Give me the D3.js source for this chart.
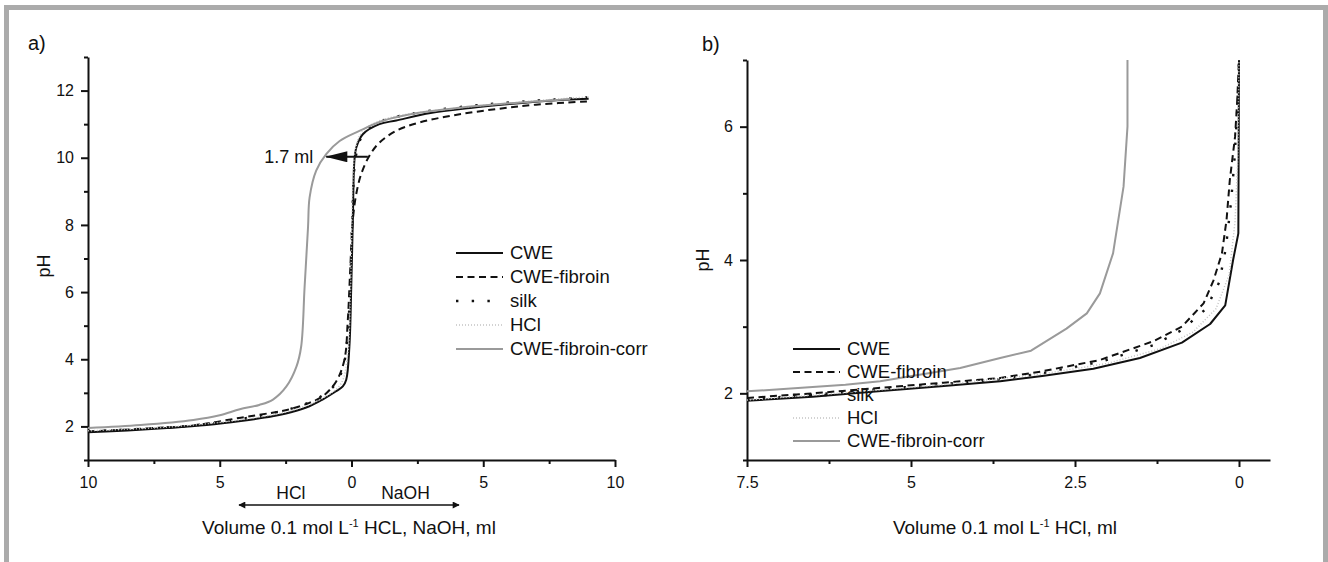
<!DOCTYPE html>
<html>
<head>
<meta charset="utf-8">
<script src="https://cdn.jsdelivr.net/npm/d3@7"></script>
<style>
  body { margin: 0; background: #fff; }
  svg { display: block; font-family: "Liberation Sans", Arial, sans-serif; }
  .axis path, .axis line { stroke: #111; }
  .axis text { fill: #111; font-size: 16px; font-family: "Liberation Sans", Arial, sans-serif; }
</style>
</head>
<body>
<div id="chart-area"></div>
<script>
// ---- data, panel a (volume: negative = HCl, positive = NaOH) ----
const seriesNames = ["CWE", "CWE-fibroin", "silk", "HCl", "CWE-fibroin-corr"];

const cweA_vol = [-10, -8.5, -7, -5.5, -4.2, -3, -2.3, -1.6, -1.1, -0.6, -0.33, -0.2, -0.08, -0.01, 0.05, 0.11, 0.18, 0.43, 1.06, 1.7, 3, 4.5, 6, 7.5, 9];
const cweA_pH  = [1.83, 1.88, 1.95, 2.04, 2.16, 2.3, 2.42, 2.6, 2.8, 3.04, 3.19, 3.39, 4.38, 6.14, 8.14, 9.91, 10.3, 10.7, 11.0, 11.11, 11.33, 11.48, 11.6, 11.7, 11.76];

const fibA_vol = [-10, -8, -6, -4.2, -3, -2.35, -1.6, -1.09, -0.58, -0.27, -0.14, -0.05, 0.05, 0.18, 0.37, 0.68, 1.06, 1.69, 2.58, 4, 5.5, 7, 9];
const fibA_pH  = [1.85, 1.93, 2.03, 2.26, 2.41, 2.51, 2.7, 2.9, 3.34, 3.98, 5.17, 6.64, 8.14, 8.92, 9.52, 10.06, 10.45, 10.8, 11.05, 11.28, 11.45, 11.58, 11.68];

const silkA_vol = [-10, -8, -6, -4.2, -3, -2, -1.2, -0.6, -0.3, -0.15, -0.06, 0, 0.06, 0.15, 0.35, 0.8, 1.5, 3, 5, 7, 9];
const silkA_pH  = [1.85, 1.93, 2.03, 2.22, 2.39, 2.6, 2.87, 3.27, 3.82, 4.73, 5.94, 7.45, 8.96, 9.97, 10.57, 10.98, 11.18, 11.4, 11.58, 11.7, 11.8];

const hclA_vol = [-10, -7, -4.2, -2.3, -1.1, -0.4, -0.15, -0.05, 0, 0.06, 0.15, 0.4, 1, 2, 4, 6, 8, 9];
const hclA_pH  = [1.87, 1.98, 2.2, 2.47, 2.84, 3.27, 4.13, 5.74, 7.45, 9.46, 10.27, 10.77, 11.08, 11.28, 11.48, 11.63, 11.76, 11.81];

const corrA_vol = [-10, -8, -6, -5, -4.24, -3.5, -2.98, -2.47, -2.09, -1.91, -1.78, -1.65, -1.59, -1.34, -0.96, -0.45, 0.3, 1.19, 2.5, 4, 6, 8.3];
const corrA_pH  = [1.95, 2.04, 2.19, 2.33, 2.51, 2.64, 2.8, 3.19, 3.78, 4.38, 6.15, 7.93, 8.82, 9.62, 10.11, 10.5, 10.8, 11.1, 11.33, 11.48, 11.62, 11.74];

// ---- data, panel b (volume of HCl) ----
const cweB_vol = [7.5, 6.5, 5.5, 4.5, 3.64, 3.0, 2.22, 1.51, 0.87, 0.44, 0.21, 0.09, 0.01, 0];
const cweB_pH  = [1.89, 1.95, 2.03, 2.11, 2.18, 2.26, 2.37, 2.53, 2.76, 3.04, 3.32, 4.0, 4.4, 7.0];

const fibB_vol = [7.5, 6.5, 5.5, 4.5, 3.64, 3.0, 2.12, 1.31, 0.87, 0.54, 0.39, 0.26, 0.19, 0.14, 0.06, 0.03, 0];
const fibB_pH  = [1.93, 2.0, 2.08, 2.16, 2.23, 2.33, 2.5, 2.78, 3.0, 3.35, 3.69, 4.1, 4.6, 5.2, 5.85, 6.34, 7.0];

const silkB_vol = [7.5, 6.5, 5.5, 4.5, 3.64, 3.0, 2.12, 1.31, 0.87, 0.5, 0.3, 0.2, 0.12, 0.07, 0.03, 0];
const silkB_pH  = [1.91, 1.98, 2.06, 2.14, 2.21, 2.3, 2.47, 2.72, 2.95, 3.27, 3.67, 4.18, 4.88, 5.49, 6.19, 7.0];

const hclB_vol = [7.5, 6, 4.5, 3, 2, 1.2, 0.7, 0.35, 0.15, 0.06, 0.02, 0];
const hclB_pH  = [1.9, 2.01, 2.13, 2.29, 2.45, 2.67, 2.92, 3.27, 3.78, 4.58, 5.49, 7.0];

const corrB_vol = [7.5, 7.0, 6.0, 5.47, 4.25, 3.64, 3.17, 2.63, 2.32, 2.12, 1.92, 1.76, 1.70, 1.70];
const corrB_pH  = [2.03, 2.06, 2.13, 2.18, 2.38, 2.53, 2.64, 2.97, 3.2, 3.5, 4.1, 5.1, 6.0, 7.0];

// ticks
const xTicksA = [-10, -5, 0, 5, 10], xMinorA = [-7.5, -2.5, 2.5, 7.5];
const yTicksA = [2, 4, 6, 8, 10, 12], yMinorA = [1, 3, 5, 7, 9, 11, 13];
const xTicksB = [7.5, 5, 2.5, 0], xMinorB = [6.25, 3.75, 1.25];
const yTicksB = [2, 4, 6], yMinorB = [1, 3, 5, 7];

const W = 1328, H = 562;

const styles = [
  {stroke: "#111", width: 2, dash: null},
  {stroke: "#111", width: 2, dash: "7,4.5"},
  {stroke: "#111", width: 2.4, dash: "2.4,13.3"},
  {stroke: "#c4c4c4", width: 1.5, dash: "1,2"},
  {stroke: "#9a9a9a", width: 2, dash: null}
];

const svg = d3.select("#chart-area").append("svg")
  .attr("width", W)
  .attr("height", H);

// outer frame
svg.append("rect")
  .attr("x", 6.5).attr("y", 7.5)
  .attr("width", 1319).attr("height", 640)
  .attr("fill", "#fff")
  .attr("stroke", "#ababab")
  .attr("stroke-width", 5);

const zip = (xs, ys) => xs.map((v, i) => ({v: v, pH: ys[i]}));

function panel(opt) {
  const x = d3.scaleLinear().domain(opt.xDomain).range(opt.xRange);
  const y = d3.scaleLinear().domain(opt.yDomain).range(opt.yRange);
  const g = svg.append("g");

  // axes
  g.append("g").attr("class", "axis")
    .attr("transform", "translate(0," + opt.yRange[0] + ")")
    .call(d3.axisBottom(x).tickValues(opt.xTicks).tickFormat(d => Math.abs(d))
      .tickSize(7).tickSizeOuter(0).tickPadding(10));
  g.append("g").attr("class", "axis")
    .attr("transform", "translate(0," + opt.yRange[0] + ")")
    .call(d3.axisBottom(x).tickValues(opt.xMinor).tickFormat("").tickSize(4).tickSizeOuter(0))
    .select(".domain").remove();
  g.append("g").attr("class", "axis")
    .attr("transform", "translate(" + opt.xRange[0] + ",0)")
    .call(d3.axisLeft(y).tickValues(opt.yTicks).tickFormat(d3.format("d"))
      .tickSize(7).tickSizeOuter(0).tickPadding(7));
  g.append("g").attr("class", "axis")
    .attr("transform", "translate(" + opt.xRange[0] + ",0)")
    .call(d3.axisLeft(y).tickValues(opt.yMinor).tickFormat("").tickSize(4).tickSizeOuter(0))
    .select(".domain").remove();
  g.selectAll(".axis .domain").attr("stroke-width", 2);
  g.selectAll(".axis line").attr("stroke-width", 2);

  // curves
  const line = d3.line()
    .x(d => x(d.v))
    .y(d => y(d.pH))
    .curve(opt.curve);

  opt.series.forEach((s, i) => {
    g.append("path")
      .attr("d", line(s))
      .attr("fill", "none")
      .attr("stroke", styles[i].stroke)
      .attr("stroke-width", styles[i].width)
      .attr("stroke-dasharray", styles[i].dash)
      .attr("stroke-linejoin", "round");
  });

  // legend
  const leg = g.append("g")
    .attr("transform", "translate(" + opt.legend[0] + "," + opt.legend[1] + ")");
  seriesNames.forEach((name, i) => {
    const row = leg.append("g").attr("transform", "translate(0," + i * opt.legendStep + ")");
    row.append("line")
      .attr("x1", 0).attr("x2", 47)
      .attr("stroke", styles[i].stroke)
      .attr("stroke-width", styles[i].width)
      .attr("stroke-dasharray", styles[i].dash);
    row.append("text")
      .attr("x", 54).attr("dy", "0.35em")
      .attr("font-size", 18.5).attr("fill", "#111")
      .text(name);
  });

  // panel letter
  g.append("text")
    .attr("x", opt.letter[0]).attr("y", opt.letter[1])
    .attr("font-size", 20).attr("fill", "#111")
    .text(opt.letterText);

  // y title
  g.append("text")
    .attr("transform", "translate(" + opt.yTitle[0] + "," + opt.yTitle[1] + ") rotate(-90)")
    .attr("text-anchor", "middle")
    .attr("font-size", 18).attr("fill", "#111")
    .text("pH");

  // x title with superscript
  const t = g.append("text")
    .attr("x", opt.xTitle[0]).attr("y", opt.xTitle[1])
    .attr("text-anchor", "middle")
    .attr("font-size", 19).attr("fill", "#111");
  t.append("tspan").text("Volume 0.1 mol L");
  t.append("tspan").attr("dy", -7).attr("font-size", 11).text("-1");
  t.append("tspan").attr("dy", 7).text(" " + opt.xTitleTail);

  return {x: x, y: y, g: g};
}

const pa = panel({
  xDomain: [-10, 10], xRange: [88, 615],
  yDomain: [1, 13], yRange: [460, 57],
  xTicks: xTicksA, xMinor: xMinorA, yTicks: yTicksA, yMinor: yMinorA,
  curve: d3.curveCatmullRom.alpha(0.5),
  series: [zip(cweA_vol, cweA_pH), zip(fibA_vol, fibA_pH), zip(silkA_vol, silkA_pH),
           zip(hclA_vol, hclA_pH), zip(corrA_vol, corrA_pH)],
  legend: [456, 253], legendStep: 24,
  letter: [28, 50], letterText: "a)",
  yTitle: [50, 266],
  xTitle: [349, 534], xTitleTail: "HCL, NaOH, ml"
});

const pb = panel({
  xDomain: [7.5, -0.4726], xRange: [747, 1270],
  yDomain: [1, 7], yRange: [460, 60],
  xTicks: xTicksB, xMinor: xMinorB, yTicks: yTicksB, yMinor: yMinorB,
  curve: d3.curveLinear,
  series: [zip(cweB_vol, cweB_pH), zip(fibB_vol, fibB_pH), zip(silkB_vol, silkB_pH),
           zip(hclB_vol, hclB_pH), zip(corrB_vol, corrB_pH)],
  legend: [793, 349], legendStep: 23,
  letter: [702, 51], letterText: "b)",
  yTitle: [709, 260],
  xTitle: [1005, 534], xTitleTail: "HCl, ml"
});

// ---- panel a annotations ----
const defs = svg.append("defs");
defs.append("marker")
  .attr("id", "head").attr("viewBox", "0 0 10 10")
  .attr("refX", 9).attr("refY", 5)
  .attr("markerWidth", 12).attr("markerHeight", 7)
  .attr("markerUnits", "userSpaceOnUse")
  .attr("orient", "auto-start-reverse")
  .append("path").attr("d", "M0,0L10,5L0,10Z").attr("fill", "#111");
defs.append("marker")
  .attr("id", "bighead").attr("viewBox", "0 0 24 12")
  .attr("refX", 23).attr("refY", 6)
  .attr("markerWidth", 24).attr("markerHeight", 11)
  .attr("markerUnits", "userSpaceOnUse")
  .attr("orient", "auto")
  .append("path").attr("d", "M0,0L24,6L0,12Z").attr("fill", "#111");

// 1.7 ml shift arrow
const shiftFrom = 0.62, shiftTo = -0.96, shiftPH = 10.03;
pa.g.append("line")
  .attr("x1", pa.x(shiftFrom)).attr("x2", pa.x(shiftTo))
  .attr("y1", pa.y(shiftPH)).attr("y2", pa.y(shiftPH))
  .attr("stroke", "#111").attr("stroke-width", 2)
  .attr("marker-end", "url(#bighead)");
pa.g.append("text")
  .attr("x", pa.x(shiftTo) - 13).attr("y", pa.y(shiftPH))
  .attr("dy", "0.33em").attr("text-anchor", "end")
  .attr("font-size", 18).attr("fill", "#111")
  .text("1.7 ml");

// HCl <-> NaOH arrow below axis
const dirArrow = [-4.27, 4.08];
pa.g.append("line")
  .attr("x1", pa.x(dirArrow[0])).attr("x2", pa.x(dirArrow[1]))
  .attr("y1", 505).attr("y2", 505)
  .attr("stroke", "#111").attr("stroke-width", 1.5)
  .attr("marker-start", "url(#head)")
  .attr("marker-end", "url(#head)");
pa.g.append("text")
  .attr("x", pa.x(-2.3)).attr("y", 499)
  .attr("text-anchor", "middle").attr("font-size", 17.5).attr("fill", "#111")
  .text("HCl");
pa.g.append("text")
  .attr("x", pa.x(2.05)).attr("y", 499)
  .attr("text-anchor", "middle").attr("font-size", 17.5).attr("fill", "#111")
  .text("NaOH");
</script>
</body>
</html>
